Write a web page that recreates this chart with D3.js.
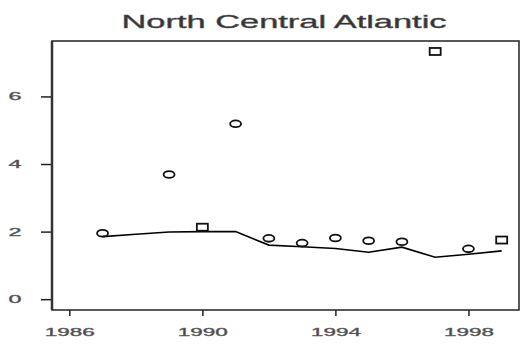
<!DOCTYPE html>
<html>
<head>
<meta charset="utf-8">
<script src="https://cdn.jsdelivr.net/npm/d3@7"></script>
<style>
  html, body { margin: 0; padding: 0; background: #fff; }
  svg { display: block; }
  text { font-family: "Liberation Sans", Arial, Helvetica, sans-serif; }
</style>
</head>
<body>
<svg id="chart" width="520" height="347"></svg>
<script>
// ---- data ----
const title = "North Central Atlantic";
const pointYears = [1987, 1989, 1990, 1991, 1992, 1993, 1994, 1995, 1996, 1997, 1998, 1999];
const pointValues = [1.95, 3.69, 2.13, 5.19, 1.80, 1.66, 1.81, 1.73, 1.70, 7.33, 1.49, 1.75];
const pointShapes = ["circle", "circle", "square", "circle", "circle", "circle", "circle", "circle", "circle", "square", "circle", "square"];
const lineYears = [1987, 1988, 1989, 1990, 1991, 1992, 1993, 1994, 1995, 1996, 1997, 1998, 1999];
const lineValues = [1.85, 1.92, 1.99, 2.00, 2.00, 1.60, 1.55, 1.50, 1.39, 1.54, 1.24, 1.33, 1.43];
const xTicks = [1986, 1990, 1994, 1998];
const yTicks = [0, 2, 4, 6];

// ---- layout ----
const svg = d3.select("#chart");
const mLeft = 52, mRight = 519, mTop = 41, mBottom = 310;
const x = d3.scaleLinear().domain([1985.48, 1999.52]).range([mLeft, mRight]);
const y = d3.scaleLinear().domain([-0.32, 7.64]).range([mBottom, mTop]);

// title
svg.append("text")
  .attr("x", 284).attr("y", 28)
  .attr("text-anchor", "middle")
  .attr("font-size", 18)
  .attr("fill", "#333")
  .attr("stroke", "#555").attr("stroke-width", 0.4)
  .attr("textLength", 325)
  .attr("lengthAdjust", "spacingAndGlyphs")
  .text(title);

// y axis
const yAxis = svg.append("g")
  .attr("transform", `translate(${mLeft},0)`)
  .call(d3.axisLeft(y).tickValues(yTicks).tickSize(11).tickPadding(18).tickFormat(d3.format("d")));
yAxis.select(".domain").remove();
yAxis.selectAll(".tick line").attr("stroke", "#222").attr("stroke-width", 1.5);
yAxis.selectAll(".tick text")
  .attr("font-size", 11).attr("fill", "#444")
  .attr("stroke", "#666").attr("stroke-width", 0.4)
  .attr("text-anchor", "middle")
  .attr("x", -37)
  .attr("textLength", 13).attr("lengthAdjust", "spacingAndGlyphs");

// x axis
const xAxis = svg.append("g")
  .attr("transform", `translate(0,${mBottom})`)
  .call(d3.axisBottom(x).tickValues(xTicks).tickSize(6).tickPadding(12).tickFormat(d3.format("d")));
xAxis.select(".domain").remove();
xAxis.selectAll(".tick line").attr("stroke", "#222").attr("stroke-width", 1.5);
xAxis.selectAll(".tick text")
  .attr("font-size", 11.5).attr("fill", "#444")
  .attr("stroke", "#666").attr("stroke-width", 0.4)
  .attr("textLength", 50).attr("lengthAdjust", "spacingAndGlyphs");

// box
svg.append("rect")
  .attr("x", mLeft).attr("y", mTop)
  .attr("width", mRight - mLeft).attr("height", mBottom - mTop)
  .attr("fill", "none").attr("stroke", "#222").attr("stroke-width", 1.5);
svg.append("line")
  .attr("x1", mLeft).attr("x2", mLeft).attr("y1", mTop).attr("y2", mBottom)
  .attr("stroke", "#333").attr("stroke-width", 2.5);

// line
const line = d3.line().x((d, i) => x(lineYears[i])).y(d => y(d));
svg.append("path")
  .datum(lineValues)
  .attr("d", line)
  .attr("fill", "none").attr("stroke", "#000").attr("stroke-width", 1.6);

// points
const pts = svg.append("g");
pointYears.forEach((yr, i) => {
  const cx = x(yr), cy = y(pointValues[i]);
  if (pointShapes[i] === "square") {
    pts.append("rect")
      .attr("x", cx - 5.5).attr("y", cy - 3.5)
      .attr("width", 11).attr("height", 7)
      .attr("fill", "none").attr("stroke", "#111").attr("stroke-width", 1.8);
  } else {
    pts.append("ellipse")
      .attr("cx", cx).attr("cy", cy)
      .attr("rx", 5.5).attr("ry", 3.4)
      .attr("fill", "none").attr("stroke", "#111").attr("stroke-width", 1.8);
  }
});
</script>
</body>
</html>
